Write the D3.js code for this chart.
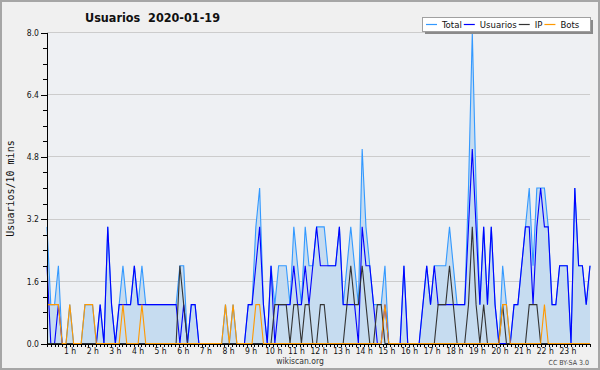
<!DOCTYPE html>
<html>
<head>
<meta charset="utf-8">
<script src="https://cdn.jsdelivr.net/npm/d3@7"></script>
<style>
  body { margin: 0; background: #f0f0f0; }
  text { font-family: "DejaVu Sans Condensed", "DejaVu Sans", sans-serif; }
</style>
</head>
<body>
<svg id="chart"></svg>
<script>
// one value per 10 minutes, 00:00 -> 23:50
const total = [
  3, 1, 1, 2, 0, 0, 1, 0, 0, 0, 1, 1,
  1, 0, 1, 0, 3, 1, 0, 1, 2, 1, 1, 2,
  1, 2, 1, 1, 1, 1, 1, 1, 1, 1, 1, 2,
  2, 0, 1, 1, 0, 0, 0, 0, 0, 0, 0, 1,
  0, 1, 0, 0, 0, 1, 1, 3, 4, 1, 0, 2,
  1, 2, 2, 2, 1, 3, 2, 1, 3, 2, 2, 3,
  3, 3, 2, 2, 2, 3, 1, 2, 3, 2, 1, 5,
  3, 2, 1, 1, 1, 2, 0, 0, 0, 0, 2, 0,
  0, 0, 0, 1, 2, 1, 2, 2, 2, 2, 3, 2,
  1, 1, 1, 4, 8, 4, 1, 3, 1, 3, 1, 0,
  2, 1, 0, 1, 1, 2, 3, 4, 2, 4, 4, 4,
  3, 1, 1, 2, 2, 2, 0, 4, 2, 2, 1, 2
];

const usuarios = [
  2, 0, 0, 1, 0, 0, 0, 0, 0, 0, 0, 0,
  0, 0, 1, 0, 3, 1, 0, 1, 1, 1, 1, 2,
  1, 1, 1, 1, 1, 1, 1, 1, 1, 1, 1, 0,
  1, 0, 1, 1, 0, 0, 0, 0, 0, 0, 0, 0,
  0, 0, 0, 0, 0, 1, 1, 2, 3, 1, 0, 2,
  0, 1, 1, 1, 1, 2, 1, 1, 2, 1, 2, 3,
  2, 2, 2, 2, 2, 3, 1, 1, 1, 1, 0, 3,
  2, 2, 1, 0, 0, 1, 0, 0, 0, 0, 2, 0,
  0, 0, 0, 1, 2, 1, 2, 1, 1, 1, 1, 1,
  1, 1, 1, 3, 5, 3, 1, 3, 1, 3, 1, 0,
  0, 0, 0, 1, 1, 2, 3, 3, 1, 3, 4, 3,
  3, 1, 1, 2, 2, 2, 0, 4, 2, 2, 1, 2
];

const ip = [
  0, 0, 0, 0, 0, 0, 0, 0, 0, 0, 0, 0,
  0, 0, 0, 0, 0, 0, 0, 0, 0, 0, 0, 0,
  0, 0, 0, 0, 0, 0, 0, 0, 0, 0, 0, 2,
  1, 0, 0, 0, 0, 0, 0, 0, 0, 0, 0, 0,
  0, 0, 0, 0, 0, 0, 0, 0, 0, 0, 0, 0,
  1, 1, 1, 1, 0, 1, 1, 0, 1, 1, 0, 0,
  1, 1, 0, 0, 0, 0, 0, 1, 2, 1, 1, 2,
  1, 0, 0, 1, 1, 0, 0, 0, 0, 0, 0, 0,
  0, 0, 0, 0, 0, 0, 0, 1, 1, 1, 2, 1,
  0, 0, 0, 1, 3, 1, 0, 1, 0, 0, 0, 0,
  1, 0, 0, 0, 0, 0, 0, 1, 1, 1, 0, 0,
  0, 0, 0, 0, 0, 0, 0, 0, 0, 0, 0, 0
];

const bots = [
  1, 1, 1, 1, 0, 0, 1, 0, 0, 0, 1, 1,
  1, 0, 0, 0, 0, 0, 0, 0, 1, 0, 0, 0,
  0, 1, 0, 0, 0, 0, 0, 0, 0, 0, 0, 0,
  0, 0, 0, 0, 0, 0, 0, 0, 0, 0, 0, 1,
  0, 1, 0, 0, 0, 0, 0, 1, 1, 0, 0, 0,
  0, 0, 0, 0, 0, 0, 0, 0, 0, 0, 0, 0,
  0, 0, 0, 0, 0, 0, 0, 0, 0, 0, 0, 0,
  0, 0, 0, 0, 0, 1, 0, 0, 0, 0, 0, 0,
  0, 0, 0, 0, 0, 0, 0, 0, 0, 0, 0, 0,
  0, 0, 0, 0, 0, 0, 0, 0, 0, 0, 0, 0,
  1, 1, 0, 0, 0, 0, 0, 0, 0, 0, 0, 1,
  0, 0, 0, 0, 0, 0, 0, 0, 0, 0, 0, 0
];

const yTicks = [0, 1.6, 3.2, 4.8, 6.4, 8.0];
const hourTicks = [1, 2, 3, 4, 5, 6, 7, 8, 9, 10, 11, 12, 13, 14, 15, 16, 17, 18, 19, 20, 21, 22, 23];
const seriesNames = ["Total", "Usuarios", "IP", "Bots"];
const seriesColors = ["#3399ff", "#0000ff", "#333333", "#ff9900"];

const width = 600, height = 370;
const plotLeft = 47, plotRight = 590, plotTop = 32.5, plotBottom = 343.5;

const svg = d3.select("#chart")
    .attr("width", width)
    .attr("height", height);

svg.append("rect")
    .attr("x", 1).attr("y", 1)
    .attr("width", width - 2).attr("height", height - 2)
    .style("fill", "#f0f0f0")
    .style("stroke", "#a6a6a6")
    .style("stroke-width", 2);

svg.append("rect")
    .attr("x", plotLeft).attr("y", plotTop)
    .attr("width", plotRight - plotLeft).attr("height", plotBottom - plotTop)
    .style("fill", "#eef0f3");

const x = d3.scaleLinear()
    .domain([0, total.length - 1])
    .range([plotLeft, plotRight]);

const xHour = d3.scaleLinear()
    .domain([0, 24])
    .range([plotLeft, plotRight]);

const y = d3.scaleLinear()
    .domain([0, 8])
    .range([plotBottom, plotTop]);

// grid
svg.append("g")
    .selectAll("line")
    .data(yTicks.slice(1))
    .enter()
    .append("line")
    .attr("x1", plotLeft)
    .attr("x2", plotRight)
    .attr("y1", d => Math.floor(y(d)) + 0.5)
    .attr("y2", d => Math.floor(y(d)) + 0.5)
    .style("stroke", "#cccccc")
    .style("shape-rendering", "crispEdges");

const area = d3.area()
    .x((d, i) => x(i))
    .y0(y(0))
    .y1(d => y(d));

svg.append("path")
    .datum(total)
    .attr("d", area)
    .style("fill", "#c6dcf0");

const line = d3.line()
    .x((d, i) => x(i))
    .y(d => y(d));

[total, usuarios, ip, bots].forEach((values, k) => {
    svg.append("path")
        .datum(values)
        .attr("d", line)
        .style("fill", "none")
        .style("stroke", seriesColors[k])
        .style("stroke-width", 1.1);
});

// y axis
svg.append("g")
    .attr("transform", `translate(${plotLeft},0)`)
    .call(d3.axisLeft(y).tickValues(d3.range(0, 8.001, 0.4)).tickSize(4).tickSizeOuter(0).tickFormat(""));

const yAxis = svg.append("g")
    .attr("transform", `translate(${plotLeft},0)`)
    .call(d3.axisLeft(y).tickValues(yTicks).tickSize(6).tickSizeOuter(0).tickPadding(2).tickFormat(d3.format(".1f")));

yAxis.selectAll("text")
    .style("font-size", "8.5px")
    .style("fill", "#111");

// x axis
svg.append("g")
    .attr("transform", `translate(0,${plotBottom + 0.5})`)
    .call(d3.axisBottom(xHour).tickValues(d3.range(0, 24.001, 1 / 6)).tickSize(3).tickSizeOuter(0).tickFormat(""));

const xAxis = svg.append("g")
    .attr("transform", `translate(0,${plotBottom + 0.5})`)
    .call(d3.axisBottom(xHour).tickValues(hourTicks).tickSize(0).tickPadding(4).tickFormat(d => d + " h"));

xAxis.select(".domain").remove();
xAxis.selectAll("text")
    .style("font-size", "8.5px")
    .style("fill", "#111");

svg.selectAll(".domain, .tick line")
    .style("stroke", "#000")
    .style("shape-rendering", "crispEdges");

// texts
svg.append("text")
    .attr("x", 85)
    .attr("y", 21.5)
    .attr("xml:space", "preserve")
    .style("font-weight", "bold")
    .style("font-size", "12.5px")
    .style("fill", "#111")
    .text("Usuarios  2020-01-19");

svg.append("text")
    .attr("transform", "translate(13.5,188.5) rotate(-90)")
    .attr("text-anchor", "middle")
    .style("font-family", "'DejaVu Sans Mono', monospace")
    .style("font-size", "10px")
    .style("fill", "#111")
    .text("Usuarios/10 mins");

svg.append("text")
    .attr("x", 300)
    .attr("y", 364)
    .attr("text-anchor", "middle")
    .style("font-size", "8.5px")
    .style("fill", "#333")
    .text("wikiscan.org");

svg.append("text")
    .attr("x", 589)
    .attr("y", 365)
    .attr("text-anchor", "end")
    .style("font-size", "7px")
    .style("fill", "#444")
    .text("CC BY-SA 3.0");

// legend
const legend = svg.append("g").attr("transform", "translate(422,17)");

legend.append("rect")
    .attr("x", 3).attr("y", 3)
    .attr("width", 168).attr("height", 14)
    .style("fill", "#8a8a8a");

legend.append("rect")
    .attr("x", 0.5).attr("y", 0.5)
    .attr("width", 168).attr("height", 14)
    .style("fill", "#fff")
    .style("stroke", "#a0a0a0");

let lx = 4;
seriesNames.forEach((name, k) => {
    legend.append("line")
        .attr("x1", lx).attr("x2", lx + 11)
        .attr("y1", 7.5).attr("y2", 7.5)
        .style("stroke", seriesColors[k])
        .style("stroke-width", 1.2);
    const t = legend.append("text")
        .attr("x", lx + 16)
        .attr("y", 11)
        .style("font-size", "9.5px")
        .style("fill", "#111")
        .text(name);
    lx += 16 + t.node().getComputedTextLength() + 2;
});
</script>
</body>
</html>
